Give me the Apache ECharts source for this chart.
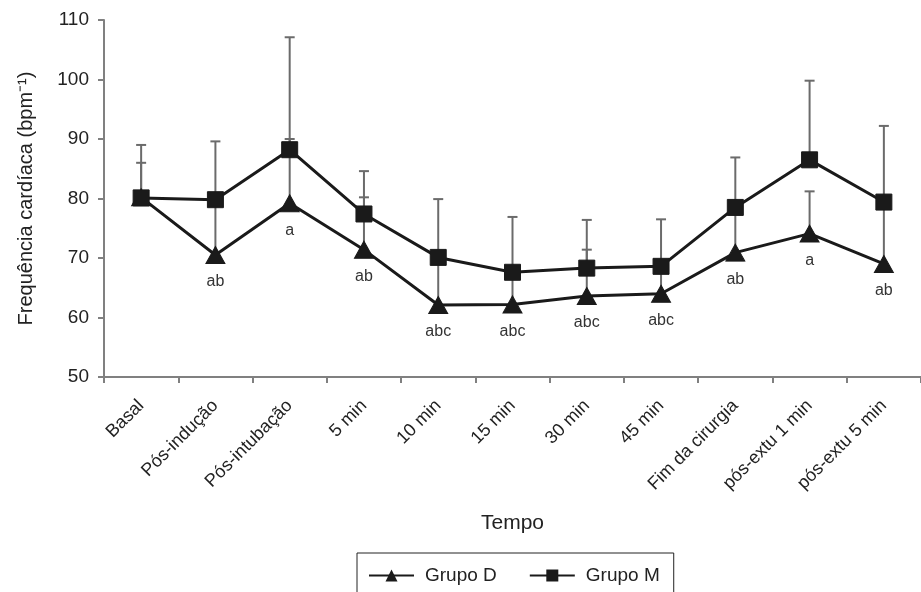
<!DOCTYPE html>
<html>
<head>
<meta charset="utf-8">
<script src="https://cdn.jsdelivr.net/npm/echarts@6/dist/echarts.min.js"></script>
<style>
  html, body { margin: 0; padding: 0; background: #fff; }
  #chart { width: 921px; height: 592px; }
</style>
</head>
<body>
<div id="chart"></div>
<script>
const categories = ['Basal', 'Pós-indução', 'Pós-intubação', '5 min', '10 min', '15 min', '30 min', '45 min', 'Fim da cirurgia', 'pós-extu 1 min', 'pós-extu 5 min'];
const grupoD = [80.2, 70.5, 79.2, 71.4, 62.1, 62.2, 63.6, 64.0, 70.9, 74.1, 69.0];
const grupoM = [80.1, 79.8, 88.2, 77.4, 70.1, 67.6, 68.3, 68.6, 78.5, 86.5, 79.4];
const upperD = [86.0, 80.0, 90.0, 80.2, 70.0, 67.5, 71.4, 68.5, 78.5, 81.2, 79.0];
const upperM = [89.0, 89.6, 107.1, 84.6, 79.9, 76.9, 76.4, 76.5, 86.9, 99.8, 92.2];
const labelsD = ['', 'ab', 'a', 'ab', 'abc', 'abc', 'abc', 'abc', 'ab', 'a', 'ab'];
const yTicks = [50, 60, 70, 80, 90, 100, 110];

const font = 'Liberation Sans, Arial, sans-serif';
const axisGray = '#808080';

// upper error bar: vertical line from mean up to mean+SD, with a cap
function errorBar(params, api) {
  const x = api.value(0);
  const lo = api.coord([x, api.value(1)]);
  const hi = api.coord([x, api.value(2)]);
  const style = { stroke: '#6b6b6b', lineWidth: 2 };
  return {
    type: 'group',
    children: [
      { type: 'line', shape: { x1: lo[0], y1: lo[1], x2: hi[0], y2: hi[1] }, style: style },
      { type: 'line', shape: { x1: hi[0] - 5, y1: hi[1], x2: hi[0] + 5, y2: hi[1] }, style: style }
    ]
  };
}

const barsD = grupoD.map((v, i) => [i, v, upperD[i]]);
const barsM = grupoM.map((v, i) => [i, v, upperM[i]]);

const chart = echarts.init(document.getElementById('chart'));
chart.setOption({
  animation: false,
  textStyle: { fontFamily: font },
  grid: { left: 104, top: 20, right: -8, bottom: 215 },
  legend: {
    data: ['Grupo D', 'Grupo M'],
    top: 553,
    left: 357,
    padding: [13, 14, 20, 11],
    itemGap: 32,
    itemWidth: 45,
    itemHeight: 15,
    borderColor: '#222',
    borderWidth: 1,
    textStyle: { fontSize: 19, color: '#222', fontFamily: font, padding: [0, 0, 0, 6] }
  },
  xAxis: {
    type: 'category',
    data: categories,
    boundaryGap: true,
    name: 'Tempo',
    nameLocation: 'middle',
    nameGap: 136,
    nameTextStyle: { fontSize: 21, color: '#222' },
    axisLine: { lineStyle: { color: axisGray, width: 2 } },
    axisTick: { show: true, length: 6, lineStyle: { color: axisGray, width: 2 } },
    axisLabel: { rotate: 45, margin: 26, fontSize: 18, color: '#222', interval: 0 },
    splitLine: { show: false }
  },
  yAxis: {
    type: 'value',
    min: yTicks[0],
    max: yTicks[yTicks.length - 1],
    interval: 10,
    name: 'Frequência cardíaca (bpm⁻¹)',
    nameLocation: 'middle',
    nameGap: 68,
    nameTextStyle: { fontSize: 20, color: '#222' },
    axisLine: { show: true, lineStyle: { color: axisGray, width: 2 } },
    axisTick: { show: true, length: 6, lineStyle: { color: axisGray, width: 2 } },
    axisLabel: { fontSize: 19, color: '#222', margin: 15 },
    splitLine: { show: false }
  },
  series: [
    {
      type: 'custom',
      renderItem: errorBar,
      data: barsD,
      encode: { x: 0, y: [1, 2] },
      z: 1,
      silent: true
    },
    {
      type: 'custom',
      renderItem: errorBar,
      data: barsM,
      encode: { x: 0, y: [1, 2] },
      z: 1,
      silent: true
    },
    {
      name: 'Grupo D',
      type: 'line',
      data: grupoD,
      z: 3,
      symbol: 'triangle',
      symbolSize: [19, 17],
      lineStyle: { color: '#1a1a1a', width: 3 },
      itemStyle: { color: '#1a1a1a', borderColor: '#1a1a1a' },
      label: {
        show: true,
        position: 'bottom',
        distance: 10,
        fontSize: 16,
        color: '#333',
        formatter: p => labelsD[p.dataIndex]
      }
    },
    {
      name: 'Grupo M',
      type: 'line',
      data: grupoM,
      z: 4,
      symbol: 'rect',
      symbolSize: 16,
      lineStyle: { color: '#1a1a1a', width: 3 },
      itemStyle: { color: '#1a1a1a', borderColor: '#1a1a1a' }
    }
  ]
});
</script>
</body>
</html>
